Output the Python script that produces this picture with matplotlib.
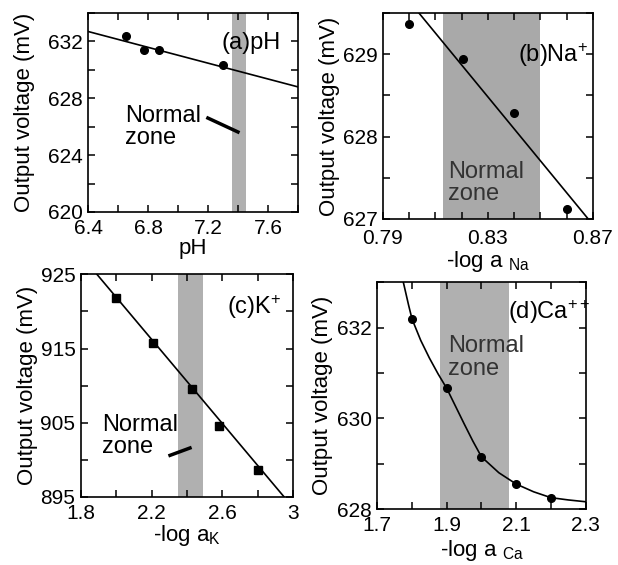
import matplotlib
matplotlib.use("Agg")
import matplotlib.pyplot as plt
from matplotlib.ticker import MultipleLocator

plt.rcParams['font.family'] = ['Liberation Sans', 'DejaVu Sans']
plt.rcParams['mathtext.fontset'] = 'custom'
plt.rcParams['mathtext.rm'] = 'Liberation Sans'
plt.rcParams['mathtext.it'] = 'Liberation Sans'

# ====== data ======
# (a) pH
ph_x = [6.65, 6.77, 6.87, 7.30]
ph_y = [632.4, 631.4, 631.4, 630.35]
ph_fit_x = [6.4, 7.8]
ph_fit_y = [632.7, 628.8]
ph_zone = (7.36, 7.45)
ph_xticks = [6.4, 6.8, 7.2, 7.6]
ph_yticks = [620, 624, 628, 632]

# (b) Na+
na_x = [0.800, 0.8205, 0.840, 0.860]
na_y = [629.37, 628.94, 628.29, 627.12]
na_fit_x = [0.8037, 0.8682]
na_fit_y = [629.5, 627.0]
na_zone = (0.813, 0.850)
na_xticks = [0.79, 0.83, 0.87]
na_yticks = [627, 628, 629]

# (c) K+
k_x = [2.00, 2.21, 2.43, 2.58, 2.80]
k_y = [921.8, 915.7, 909.6, 904.6, 898.7]
k_fit_x = [1.89, 2.95]
k_fit_y = [925.0, 895.0]
k_zone = (2.35, 2.49)
k_xticks = [1.8, 2.2, 2.6, 3.0]
k_xlabels = ["1.8", "2.2", "2.6", "3"]
k_yticks = [895, 905, 915, 925]

# (d) Ca++
ca_x = [1.80, 1.90, 2.00, 2.10, 2.20]
ca_y = [632.19, 630.66, 629.15, 628.55, 628.25]
ca_fit_x = [1.775, 1.79, 1.80, 1.825, 1.85, 1.875, 1.90, 1.925, 1.95, 1.975,
            2.00, 2.05, 2.10, 2.15, 2.20, 2.25, 2.30]
ca_fit_y = [633.0, 632.5, 632.19, 631.72, 631.33, 630.98, 630.66, 630.27, 629.88, 629.50,
            629.15, 628.80, 628.55, 628.38, 628.25, 628.20, 628.16]
ca_zone = (1.88, 2.08)
ca_xticks = [1.7, 1.9, 2.1, 2.3]
ca_yticks = [628, 630, 632]

band_color = '#b0b0b0'
tick_fs = 15
label_fs = 16
text_fs = 17


def style_axis(ax, xlim, ylim, xticks, xmin, yticks, ymin, ylabelpad=6, xpad=5):
    ax.set_xlim(*xlim)
    ax.set_ylim(*ylim)
    ax.set_xticks(xticks)
    ax.set_yticks(yticks)
    ax.xaxis.set_minor_locator(MultipleLocator(xmin))
    ax.yaxis.set_minor_locator(MultipleLocator(ymin))
    ax.tick_params(which='both', direction='in', top=True, right=True,
                   length=5, width=1.1, labelsize=tick_fs)
    ax.tick_params(axis='x', pad=xpad)
    ax.tick_params(axis='y', pad=4)
    for s in ax.spines.values():
        s.set_linewidth(1.2)
    ax.set_ylabel("Output voltage (mV)", fontsize=label_fs, labelpad=ylabelpad)


fig = plt.figure(figsize=(6.18, 5.65), dpi=100)

# ====== (a) pH ======
ax = fig.add_axes([0.1424, 0.6248, 0.3398, 0.3522])
ax.axvspan(*ph_zone, color=band_color, lw=0)
ax.plot(ph_fit_x, ph_fit_y, color='black', lw=1.2)
ax.plot(ph_x, ph_y, 'o', color='black', ms=5.5)
style_axis(ax, (6.4, 7.8), (620, 634), ph_xticks, 0.2, ph_yticks, 2, ylabelpad=9)
ax.set_xlabel("pH", fontsize=label_fs, labelpad=0)
ax.text(0.638, 0.849, "(a)pH", transform=ax.transAxes, fontsize=text_fs,
        ha='left', va='center')
ax.text(0.176, 0.427, "Normal\nzone", transform=ax.transAxes, fontsize=text_fs,
        ha='left', va='center', linespacing=1.05)
ax.plot([0.571, 0.714], [0.472, 0.402], transform=ax.transAxes, color='black', lw=2.5)

# ====== (b) Na+ ======
ax = fig.add_axes([0.6197, 0.6124, 0.3398, 0.3646])
ax.axvspan(*na_zone, color='#a9a9a9', lw=0)
ax.plot(na_fit_x, na_fit_y, color='black', lw=1.2)
ax.plot(na_x, na_y, 'o', color='black', ms=5.5)
style_axis(ax, (0.79, 0.87), (627, 629.5), na_xticks, 0.01, na_yticks, 0.5,
           ylabelpad=2, xpad=7)
ax.set_xlabel(r"-log a $_{\mathrm{Na}}$", fontsize=label_fs, labelpad=1)
ax.text(0.645, 0.796, r"(b)Na$^{+}$", transform=ax.transAxes, fontsize=text_fs,
        ha='left', va='center')
ax.text(0.311, 0.175, "Normal\nzone", transform=ax.transAxes, fontsize=text_fs,
        ha='left', va='center', linespacing=1.05, color='#333333')

# ====== (c) K+ ======
ax = fig.add_axes([0.1311, 0.1204, 0.3430, 0.3941])
ax.axvspan(*k_zone, color=band_color, lw=0)
ax.plot(k_fit_x, k_fit_y, color='black', lw=1.2)
ax.plot(k_x, k_y, 's', color='black', ms=6)
style_axis(ax, (1.8, 3.0), (895, 925), k_xticks, 0.2, k_yticks, 5, ylabelpad=2)
ax.set_xticklabels(k_xlabels)
ax.set_xlabel(r"-log a$_{\mathrm{K}}$", fontsize=label_fs, labelpad=0)
ax.text(0.689, 0.853, r"(c)K$^{+}$", transform=ax.transAxes, fontsize=text_fs,
        ha='left', va='center')
ax.text(0.099, 0.274, "Normal\nzone", transform=ax.transAxes, fontsize=text_fs,
        ha='left', va='center', linespacing=1.05)
ax.plot([0.420, 0.514], [0.187, 0.220], transform=ax.transAxes, color='black', lw=2.5)

# ====== (d) Ca++ ======
ax = fig.add_axes([0.6105, 0.0991, 0.3372, 0.4013])
ax.axvspan(*ca_zone, color=band_color, lw=0)
ax.plot(ca_fit_x, ca_fit_y, color='black', lw=1.2)
ax.plot(ca_x, ca_y, 'o', color='black', ms=5.5)
style_axis(ax, (1.7, 2.3), (628, 633), ca_xticks, 0.1, ca_yticks, 1, ylabelpad=3)
ax.set_xlabel(r"-log a $_{\mathrm{Ca}}$", fontsize=label_fs, labelpad=2)
ax.text(0.629, 0.870, r"(d)Ca$^{++}$", transform=ax.transAxes, fontsize=text_fs,
        ha='left', va='center')
ax.text(0.341, 0.668, "Normal\nzone", transform=ax.transAxes, fontsize=text_fs,
        ha='left', va='center', linespacing=1.05, color='#333333')

fig.savefig("out.png", dpi=100)
